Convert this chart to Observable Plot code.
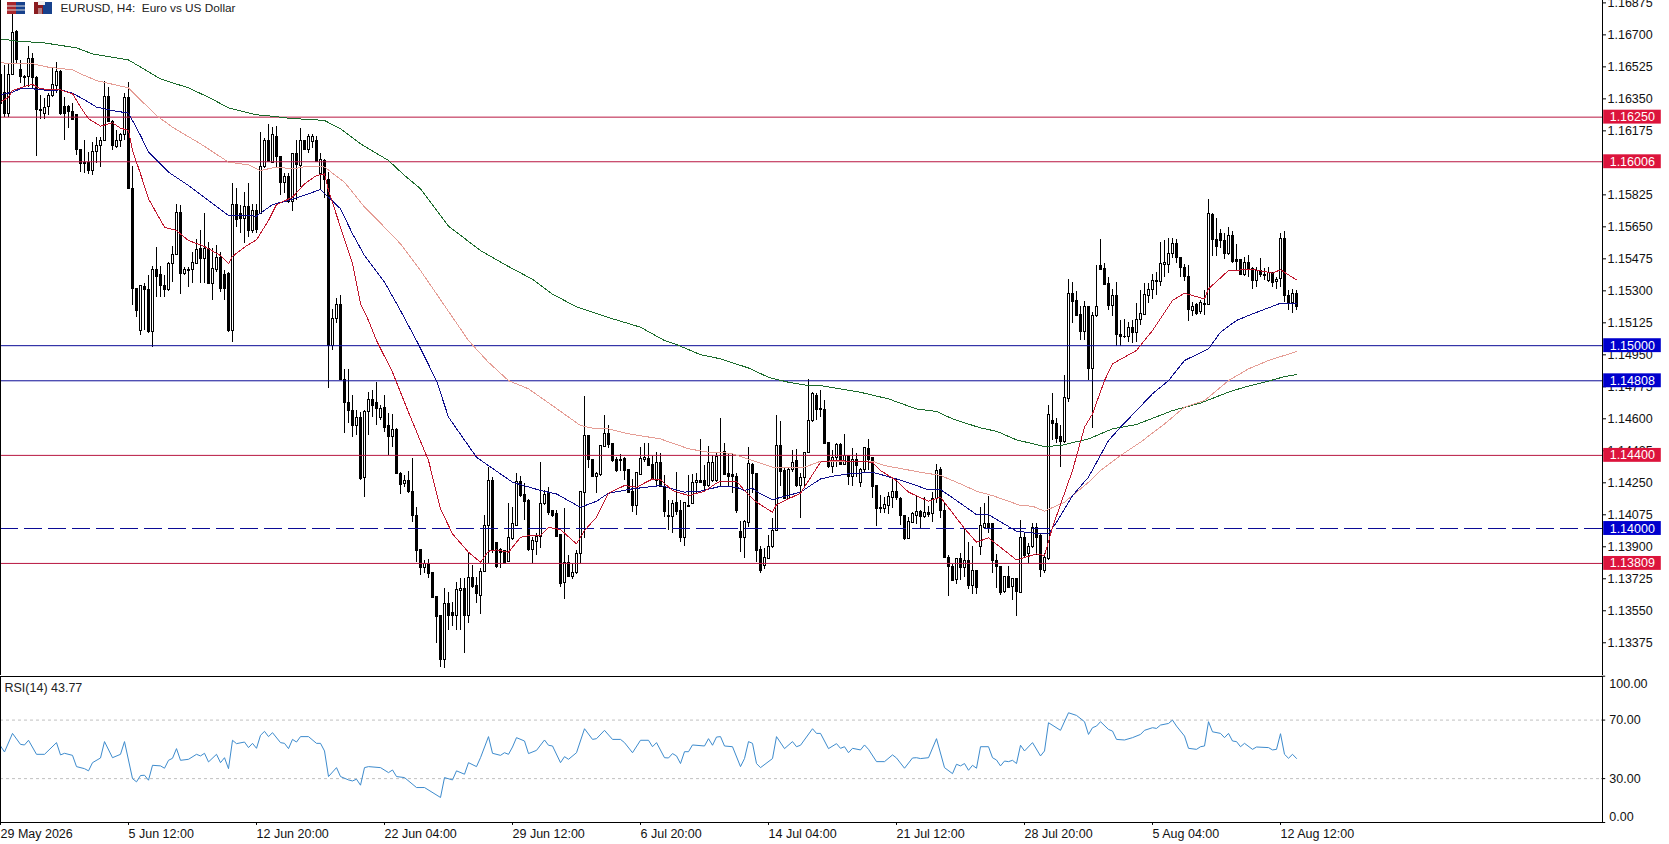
<!DOCTYPE html>
<html><head><meta charset="utf-8">
<script src="https://cdn.jsdelivr.net/npm/d3@7"></script>
<script src="https://cdn.jsdelivr.net/npm/@observablehq/plot@0.6"></script>
<style>
html,body{margin:0;padding:0;background:#fff;overflow:hidden}
#chart{position:relative;width:1669px;height:844px}
#chart>svg{position:absolute;left:0;display:block}
</style></head><body><div id="chart"></div>
<script>
// Prices are held as points (0.00001) above this base.
const base = 1.13;
const opens = [
3478,3381,3268,3483,3715,3509,3465,3469,3569,3465,
3290,3268,3305,3363,3423,3496,3308,3308,3277,3259,
3071,2998,2998,2958,3059,3090,3119,3359,3223,3086,
3119,3153,3354,2858,2311,2083,2320,2307,2074,2415,
2384,2329,2302,2448,2497,2727,2393,2415,2415,2448,
2530,2475,2530,2338,2415,2479,2389,2393,2080,2772,
2721,2694,2761,2626,2736,2721,2977,3119,3000,3144,
3031,2889,2925,2785,3046,2982,3122,3068,3113,3117,
2940,3009,2904,1999,2147,2225,1813,1685,1645,1563,
1605,1277,1636,1703,1685,1605,1660,1558,1499,1539,
1299,1244,1262,1199,1071,880,785,807,756,624,
519,282,588,537,524,657,670,524,730,688,
633,761,1016,1262,920,880,876,816,943,1016,
1253,1186,1153,880,925,952,1135,1193,1095,1080,
962,701,810,734,756,858,1193,1508,1372,1281,
1293,1448,1518,1463,1372,1375,1381,1321,1199,1122,
1295,1375,1381,1350,1262,1361,1226,1071,1065,1138,
1095,949,1120,1135,1248,1262,1259,1235,1259,1259,
1394,1417,1299,1290,1284,980,949,1029,1350,1299,
880,797,834,898,989,1454,1313,1162,1321,1368,
1235,1277,1412,1587,1727,1654,1649,1467,1339,1386,
1459,1350,1394,1284,1375,1248,1321,1435,1386,1230,
1111,1107,1122,1168,1202,1162,1071,940,1029,1071,
1089,1062,1084,1080,1162,1321,1098,839,792,721,
834,783,825,684,766,898,1003,1025,1022,825,
792,652,734,679,723,648,949,858,898,1003,
958,770,834,1590,1572,1503,1472,1709,2280,2242,
2170,2074,2211,1870,2160,2438,2417,2335,2216,2274,
2061,2046,2046,2096,2068,2138,2170,2274,2302,2347,
2347,2444,2444,2502,2557,2480,2424,2378,2192,2220,
2183,2223,2225,2717,2579,2612,2575,2499,2602,2466,
2466,2389,2453,2420,2353,2407,2389,2356,2396,2349,
2365,2584,2274,2232,2280];
const highs = [
3542,3533,3542,3815,3724,3560,3478,3638,3596,3472,
3368,3350,3378,3514,3547,3505,3359,3314,3323,3259,
3071,3122,3059,3113,3141,3141,3445,3414,3232,3177,
3159,3378,3438,2982,2311,2329,2338,2384,2433,2539,
2435,2384,2457,2543,2772,2767,2428,2430,2512,2579,
2630,2721,2566,2530,2548,2512,2411,2402,2885,2858,
2767,2840,2885,2772,2772,3168,3131,3208,3195,3199,
3031,2940,2940,3053,3122,3186,3122,3153,3153,3144,
3049,3017,2949,2196,2256,2275,1868,1868,1727,1645,
1636,1645,1745,1755,1800,1672,1727,1627,1623,1545,
1308,1290,1313,1381,1116,880,825,828,756,628,
524,670,652,597,706,725,725,870,797,734,
779,1071,1335,1281,925,889,876,1138,1116,1299,
1284,1244,1157,952,974,1363,1208,1226,1098,1098,
962,1107,852,807,880,1199,1722,1508,1372,1308,
1454,1618,1563,1463,1390,1404,1386,1321,1266,1302,
1441,1466,1463,1394,1417,1412,1290,1153,1153,1308,
1153,1138,1290,1295,1299,1485,1344,1448,1399,1417,
1600,1466,1412,1408,1302,1040,1044,1445,1357,1302,
901,889,962,1053,1618,1585,1326,1326,1426,1430,
1299,1417,1813,1745,1736,1755,1700,1467,1426,1463,
1467,1512,1399,1435,1408,1326,1445,1485,1390,1230,
1180,1171,1199,1271,1271,1171,1071,1062,1089,1180,
1098,1171,1120,1199,1350,1335,1144,852,803,834,
861,998,925,901,770,1116,1135,1175,1022,858,
792,737,792,725,725,1044,980,916,1029,1025,
971,861,1672,1740,1600,1563,1837,2360,2347,2298,
2214,2243,2214,2183,2438,2581,2448,2375,2305,2347,
2138,2141,2129,2138,2229,2302,2338,2338,2389,2398,
2566,2575,2584,2584,2579,2480,2444,2438,2238,2229,
2247,2302,2798,2721,2694,2634,2612,2648,2626,2553,
2469,2480,2493,2426,2426,2475,2420,2429,2402,2375,
2615,2624,2302,2305,2302];
const lows = [
3250,3250,3250,3483,3542,3432,3410,3414,3405,3037,
3237,3237,3259,3359,3378,3259,3122,3186,3235,3040,
2949,2940,2936,2931,2995,2977,3119,3223,3068,3077,
3086,3122,2854,2220,2156,2056,2083,2069,1988,2262,
2266,2262,2298,2348,2493,2278,2384,2320,2338,2444,
2338,2338,2335,2247,2402,2293,2247,2074,2019,2648,
2612,2557,2594,2612,2612,2721,2967,3004,2995,2977,
2822,2831,2776,2736,2794,2867,3068,3049,3077,3004,
2849,2803,1768,1974,2120,1815,1521,1572,1499,1508,
1262,1168,1508,1605,1563,1590,1527,1399,1445,1295,
1186,1226,1189,1034,816,743,752,725,615,369,
241,236,442,464,442,442,318,482,670,588,
529,757,807,861,779,779,803,812,934,1011,
1171,1044,876,810,852,889,1126,1071,1062,949,
679,610,730,719,748,807,943,1326,1277,1193,
1284,1445,1436,1363,1308,1313,1262,1189,1085,1071,
1290,1363,1339,1262,1226,1222,1062,989,974,1071,
925,903,1116,1131,1186,1244,1208,1226,1253,1253,
1226,1290,1226,1189,1080,870,834,1007,1193,816,
756,774,830,889,985,1230,1157,1157,1308,1226,
1053,1217,1408,1581,1590,1605,1459,1326,1302,1335,
1344,1344,1235,1230,1281,1226,1302,1317,1162,1011,
1084,1080,1076,1107,1153,1016,934,938,1025,1022,
998,1053,1062,1034,1138,1056,834,628,712,692,
715,734,664,639,639,852,998,971,756,670,
633,643,670,606,519,646,834,810,889,852,
734,756,825,1481,1463,1332,1467,1687,2123,2165,
2028,2028,1810,1545,2156,2411,2329,2192,2161,1995,
1997,2037,2019,2014,2019,2110,2169,2229,2251,2274,
2324,2375,2393,2475,2448,2375,2353,2134,2161,2165,
2170,2165,2220,2488,2488,2530,2469,2493,2451,2411,
2384,2378,2375,2305,2320,2375,2356,2347,2320,2305,
2316,2238,2192,2178,2192];
const closes = [
3323,3268,3483,3711,3560,3469,3472,3569,3465,3290,
3283,3301,3363,3427,3496,3268,3268,3277,3235,3068,
2995,2991,2958,3059,3090,3122,3359,3223,3090,3119,
3153,3354,2858,2311,2189,2324,2302,2074,2415,2375,
2329,2302,2448,2497,2727,2393,2415,2408,2453,2524,
2475,2530,2338,2420,2479,2311,2311,2080,2772,2685,
2694,2758,2626,2736,2630,2977,3119,3004,3150,3031,
2889,2925,2785,3049,2986,3119,3068,3141,3141,3004,
3013,2904,1999,2147,2225,1815,1685,1642,1563,1605,
1271,1636,1703,1672,1654,1654,1550,1499,1539,1299,
1240,1262,1199,1071,876,785,807,752,621,515,
282,588,519,524,664,670,524,730,679,643,
761,1016,1262,883,792,865,807,949,1022,1253,
1180,1144,880,931,952,1135,1186,1084,1071,952,
697,810,734,756,858,1199,1508,1372,1281,1299,
1454,1518,1459,1368,1313,1368,1313,1193,1122,1302,
1381,1384,1344,1266,1357,1226,1089,1065,1135,1089,
949,1138,1124,1248,1262,1248,1235,1357,1361,1390,
1399,1295,1281,1281,1098,949,1034,1353,1299,876,
770,839,901,989,1454,1308,1162,1321,1357,1230,
1277,1412,1590,1733,1649,1649,1463,1335,1386,1459,
1350,1399,1281,1375,1344,1321,1441,1375,1226,1107,
1105,1126,1171,1202,1168,1071,943,1034,1080,1089,
1062,1084,1076,1162,1317,1098,839,788,715,834,
783,825,688,770,675,1011,1025,1003,821,788,
646,734,675,723,652,949,852,901,1003,949,
774,839,1623,1572,1490,1472,1714,2280,2238,2165,
2074,2214,1870,2165,2211,2415,2333,2216,2274,2059,
2046,2050,2098,2068,2143,2174,2278,2305,2356,2356,
2448,2451,2499,2557,2480,2424,2375,2196,2214,2174,
2232,2229,2721,2579,2539,2575,2499,2602,2457,2457,
2389,2451,2415,2356,2407,2384,2382,2396,2342,2360,
2584,2274,2232,2280,2214];

// Moving averages, read as [bar, points] at the turning places of each line.
const redMA = [[0,3332],[2,3359],[3,3396],[6,3418],[8,3429],[10,3405],[15,3399],[18,3378],[20,3305],[22,3241],[25,3201],[28,3219],[30,3190],[32,3177],[33,3068],[35,2940],[37,2803],[41,2648],[44,2630],[47,2575],[51,2543],[55,2493],[57,2448],[58,2488],[61,2539],[64,2579],[67,2685],[69,2772],[73,2812],[76,2885],[79,2931],[81,2940],[82,2849],[85,2648],[88,2448],[90,2229],[92,2138],[94,2028],[98,1855],[102,1636],[107,1372],[110,1107],[113,971],[117,870],[120,816],[122,876],[124,883],[127,870],[130,952],[132,961],[135,961],[137,1007],[140,994],[144,916],[146,989],[149,1062],[152,1193],[156,1235],[159,1226],[163,1271],[165,1266],[168,1208],[172,1180],[176,1204],[179,1248],[180,1259],[184,1259],[186,1208],[189,1144],[193,1089],[194,1131],[200,1193],[205,1363],[208,1372],[218,1363],[220,1317],[224,1262],[227,1199],[232,1149],[235,1171],[241,1000],[244,925],[247,949],[254,828],[259,861],[261,852],[263,1007],[268,1317],[271,1554],[273,1627],[276,1809],[278,1901],[284,1974],[288,2083],[293,2247],[296,2287],[301,2256],[302,2311],[307,2411],[313,2417],[318,2397],[320,2415],[324,2360]];
const blueMA = [[0,3372],[3,3387],[5,3405],[8,3405],[12,3396],[15,3399],[18,3381],[21,3345],[24,3305],[28,3286],[32,3272],[35,3150],[37,3059],[42,2949],[47,2876],[52,2794],[57,2712],[64,2709],[68,2772],[72,2794],[77,2831],[80,2854],[82,2812],[85,2749],[88,2612],[91,2493],[96,2348],[100,2192],[104,2028],[109,1809],[112,1609],[119,1390],[122,1344],[128,1253],[135,1208],[139,1189],[145,1116],[149,1149],[152,1193],[158,1217],[165,1235],[171,1199],[175,1204],[180,1231],[184,1226],[186,1208],[188,1220],[190,1189],[193,1158],[200,1199],[205,1271],[208,1286],[212,1299],[218,1308],[224,1271],[229,1235],[232,1211],[235,1213],[239,1153],[244,1076],[247,1076],[254,985],[260,971],[262,971],[264,1034],[268,1180],[272,1281],[277,1481],[280,1554],[284,1645],[288,1737],[292,1809],[296,1919],[302,1983],[305,2074],[309,2138],[313,2174],[320,2232],[324,2232]];
const pinkMA = [[0,3547],[5,3542],[8,3542],[12,3523],[18,3509],[20,3487],[24,3450],[32,3410],[36,3323],[39,3259],[43,3195],[50,3104],[57,3004],[62,2989],[65,2958],[69,2977],[73,2967],[77,2982],[81,2977],[86,2894],[91,2758],[96,2648],[100,2557],[105,2411],[117,2028],[122,1909],[127,1809],[132,1764],[138,1672],[145,1563],[149,1545],[152,1545],[157,1518],[165,1490],[172,1436],[177,1417],[180,1417],[183,1408],[188,1372],[193,1335],[201,1335],[205,1368],[218,1368],[221,1344],[230,1308],[235,1290],[240,1244],[244,1204],[248,1180],[255,1126],[258,1122],[261,1095],[266,1144],[272,1253],[275,1317],[280,1399],[285,1472],[291,1572],[296,1664],[301,1700],[307,1809],[312,1873],[317,1919],[324,1968]];
const greenMA = [[0,3678],[4,3666],[11,3656],[19,3629],[23,3596],[32,3563],[40,3459],[47,3410],[52,3359],[57,3301],[64,3263],[68,3255],[72,3244],[81,3232],[85,3186],[90,3104],[97,3013],[101,2931],[105,2858],[112,2654],[120,2520],[127,2433],[133,2363],[138,2282],[144,2212],[152,2154],[160,2101],[166,2028],[169,2006],[175,1951],[180,1928],[187,1878],[192,1827],[197,1800],[202,1782],[205,1782],[215,1745],[222,1709],[229,1654],[234,1640],[238,1600],[245,1550],[249,1532],[254,1485],[261,1448],[265,1454],[272,1490],[278,1545],[284,1569],[293,1645],[300,1686],[307,1746],[311,1773],[317,1806],[321,1831],[324,1842]];

// RSI(14) as [bar, value]
const rsi = [[0,52.3],[1,48.2],[3,60.9],[5,53.4],[6,53],[7,56.2],[9,46.6],[11,46.6],[14,54.6],[15,46.2],[16,47.3],[18,45.9],[19,38.2],[21,36.8],[22,35.3],[23,40.9],[25,44.1],[26,55.3],[28,44.3],[30,46.6],[31,55.3],[33,30],[34,27.8],[35,32.1],[36,32.3],[37,28.9],[38,39.1],[40,38.7],[41,37.1],[42,42.5],[43,43.9],[44,50.5],[45,42.5],[47,43.2],[49,46.6],[50,45.5],[51,47.3],[52,41.4],[54,46.6],[55,40.9],[56,44.3],[57,36.8],[58,56.2],[59,53.9],[61,55],[62,51.2],[63,54.1],[64,50.7],[65,59.6],[66,62.3],[67,58.7],[68,61.4],[70,54.6],[71,54.1],[72,50.5],[73,56.8],[74,55],[75,58.7],[77,58.7],[79,54.1],[80,54.1],[81,48.9],[82,31.4],[84,37.5],[85,31.4],[87,29.1],[88,28.4],[89,29.6],[90,25.5],[91,37.5],[92,38.2],[95,37.5],[97,34.1],[98,35.9],[99,31.4],[101,30.7],[104,23.9],[106,23.9],[110,17.1],[111,30.7],[113,29.1],[114,35.3],[116,33],[117,40.9],[119,38.2],[120,44.3],[122,58.7],[123,47.3],[125,45.9],[126,47.7],[127,46.6],[128,51.6],[129,58],[131,55.7],[132,47.1],[134,49.3],[136,56.4],[137,52.8],[138,52.3],[140,40.9],[141,45],[142,43.2],[144,47.7],[146,64.1],[148,56.8],[149,57.3],[151,63],[153,56.8],[155,56.8],[156,54.6],[158,47.7],[160,56.2],[162,56.2],[163,51.8],[164,54.6],[166,44.3],[167,44.1],[168,47.1],[169,45.5],[170,40.3],[171,48.4],[172,48.4],[173,53],[176,52.3],[177,57.3],[178,52.8],[179,58.4],[180,58.7],[181,52.3],[183,51.8],[185,38.2],[186,43.7],[187,55.3],[188,54.1],[189,40.3],[190,37.5],[193,43.7],[194,58.7],[196,50.5],[198,55.3],[199,51.8],[200,52.8],[203,64.1],[204,60.9],[205,60.9],[207,50.5],[209,53.9],[210,50.7],[211,51.8],[212,47.7],[213,50.7],[215,49.6],[216,53],[217,50],[219,41.6],[221,41.6],[223,46.2],[224,44.1],[226,37.1],[228,44.1],[229,44.3],[230,43.7],[232,44.3],[234,57.3],[236,37.5],[238,33.4],[239,39.8],[240,38.7],[241,40.3],[242,35.7],[243,39.1],[244,37.1],[245,51.8],[247,51.8],[248,44.3],[249,42.7],[250,38.7],[251,42],[252,41.6],[253,42.5],[254,40.3],[255,52.8],[256,48.9],[258,54.6],[260,45.5],[261,48.9],[262,68.2],[265,63],[267,75],[269,73.2],[271,68.9],[272,60.2],[273,64.8],[274,65.9],[275,68.9],[277,63.6],[278,62.5],[279,56.8],[281,56.4],[283,58],[285,60.2],[286,63],[288,64.8],[289,64.3],[290,66.6],[292,67.7],[293,70],[294,65.9],[296,59.1],[297,50.7],[299,50],[300,51.8],[301,52.3],[302,68.9],[303,62],[305,60.9],[306,58],[307,60.9],[308,55.7],[309,55.3],[310,51.8],[311,54.1],[313,50],[314,51.6],[317,51.2],[318,49.6],[319,50],[320,60.7],[321,46.6],[322,43.9],[323,46.6],[324,43.77]];

const priceTicks = [1.16875,1.167,1.16525,1.1635,1.16175,1.15825,1.1565,1.15475,1.153,1.15125,1.1495,1.14775,1.146,1.14425,1.1425,1.14075,1.139,1.13725,1.1355,1.13375];
const redLevels = [1.1625,1.16006,1.144,1.13809];
const blueLevels = [1.15,1.14808];
const dashedLevels = [1.14];
const tagHalf = 0.00038;
const timeBars = [0,32,64,96,128,160,192,224,256,288,320];
const timeLabels = ["29 May 2026","5 Jun 12:00","12 Jun 20:00","22 Jun 04:00","29 Jun 12:00","6 Jul 20:00","14 Jul 04:00","21 Jul 12:00","28 Jul 20:00","5 Aug 04:00","12 Aug 12:00"];
const rsiTicks = [100,70,30,0];
const rsiGuides = [70,30];

const candles = opens.map((o,i)=>({i,o:base+o/1e5,h:base+highs[i]/1e5,l:base+lows[i]/1e5,c:base+closes[i]/1e5}));
const up = candles.filter(d=>d.c>=d.o), down = candles.filter(d=>d.c<d.o);
const toLine = a => a.map(([i,p])=>({i,p:base+p/1e5}));
const font = '"Liberation Sans",Arial,sans-serif', fs = 12.5;
const xScale = {domain:[0,400],range:[0,1600]};
const ink = "#111";
const tagMarks = (levels,fill) => [
  Plot.rect(levels,{x1:400.8,x2:415.2,y1:d=>d-tagHalf,y2:d=>d+tagHalf,fill}),
  Plot.text(levels,{x:402.3,y:d=>d,text:d=>d.toFixed(5),fill:"white",textAnchor:"start",fontSize:fs})
];
const lineOf = (a,stroke) => Plot.line(toLine(a),{x:"i",y:"p",stroke,strokeWidth:1,shapeRendering:"crispEdges"});

const main = Plot.plot({
  width:1669,height:675,marginTop:0,marginBottom:0,marginLeft:0,marginRight:67,
  style:{fontFamily:font,fontSize:fs+"px",background:"#fff",color:ink},
  x:{...xScale,axis:null},
  y:{domain:[1.13196,1.16888],range:[675,0],axis:null},
  marks:[
    Plot.ruleX(candles,{x:"i",y1:"l",y2:"h",stroke:"#000",strokeWidth:1,shapeRendering:"crispEdges"}),
    Plot.rect(up,{x1:d=>d.i-0.25,x2:d=>d.i+0.25,y1:"o",y2:"c",fill:"#fff",stroke:"#000",strokeWidth:1,shapeRendering:"crispEdges"}),
    Plot.rect(down,{x1:d=>d.i-0.25,x2:d=>d.i+0.25,y1:"o",y2:"c",fill:"#000",stroke:"#000",strokeWidth:1,shapeRendering:"crispEdges"}),
    Plot.ruleY(redLevels,{stroke:"#b81640",strokeWidth:1}),
    Plot.ruleY(blueLevels,{stroke:"#0b0b96",strokeWidth:1}),
    Plot.ruleY(dashedLevels,{stroke:"#0b0b96",strokeWidth:1,strokeDasharray:"18,6"}),
    lineOf(greenMA,"#1c6b2c"),
    lineOf(pinkMA,"#e59d95"),
    lineOf(blueMA,"#10108c"),
    lineOf(redMA,"#c0182f"),
    Plot.axisY(priceTicks,{anchor:"right",tickSize:3,tickPadding:2,tickFormat:d=>d.toFixed(5),textAnchor:"start",fontSize:fs,label:null,stroke:"#000",fill:ink}),
    ...tagMarks(redLevels,"#dc143c"),
    ...tagMarks(blueLevels,"#0000cd"),
    ...tagMarks(dashedLevels,"#0000cd"),
    Plot.frame({anchor:"left",stroke:"#000"}),
    Plot.frame({anchor:"right",stroke:"#000"}),
    Plot.frame({anchor:"bottom",stroke:"#000"}),
    Plot.text(["EURUSD, H4:\u00a0\u00a0Euro vs US Dollar"],{frameAnchor:"top-left",dx:60,dy:3,lineAnchor:"top",fontSize:11.8,fill:"#222",textAnchor:"start"})
  ]
});
main.style.top="0";
document.getElementById("chart").appendChild(main);

const sub = Plot.plot({
  width:1669,height:168,marginTop:1,marginBottom:21,marginLeft:0,marginRight:67,
  style:{fontFamily:font,fontSize:fs+"px",background:"#fff",color:ink},
  x:{...xScale,axis:null},
  y:{domain:[0,100],range:[147,0.7],axis:null},
  marks:[
    Plot.ruleY(rsiGuides,{stroke:"#c0c0c0",strokeWidth:1,strokeDasharray:"3,3"}),
    Plot.line(rsi.map(([i,v])=>({i,v})),{x:"i",y:"v",stroke:"#3d8bcd",strokeWidth:1}),
    Plot.ruleY(rsiTicks,{x1:400.4,x2:401.3,stroke:"#000"}),
    Plot.text([70,30],{x:402.2,y:d=>d,text:d=>d.toFixed(2),textAnchor:"start",fontSize:fs,fill:ink}),
    Plot.text([100],{x:402.2,y:d=>d,dy:8,text:d=>d.toFixed(2),textAnchor:"start",fontSize:fs,fill:ink}),
    Plot.text([0],{x:402.2,y:d=>d,dy:-6,text:d=>d.toFixed(2),textAnchor:"start",fontSize:fs,fill:ink}),
    Plot.ruleX(timeBars,{x:d=>d,y1:0,y2:-2,stroke:"#000"}),
    Plot.text(timeBars,{x:d=>d,y:0,dy:11,text:(d,i)=>timeLabels[i],textAnchor:"start",fontSize:fs,fill:ink}),
    Plot.frame({stroke:"#000"}),
    Plot.text(["RSI(14) 43.77"],{frameAnchor:"top-left",dx:4,dy:7,lineAnchor:"top",fontSize:fs,fill:"#222",textAnchor:"start"})
  ]
});
sub.style.top="675px";
document.getElementById("chart").appendChild(sub);

// Toolbar glyphs at the top-left of the pane
const ns="http://www.w3.org/2000/svg";
const icons=document.createElementNS(ns,"svg");
icons.setAttribute("width","60");icons.setAttribute("height","16");
icons.style.cssText="position:absolute;left:0;top:0";
icons.innerHTML=`<rect x="7" y="2" width="9" height="12" fill="#a8262c"/><rect x="16" y="2" width="9" height="12" fill="#17418c"/>
<path d="M7 6h18M7 10h18" stroke="#ddd" stroke-width="1"/>
<rect x="34" y="2" width="9" height="12" fill="#8a1c20"/><rect x="43" y="2" width="9" height="12" fill="#17418c"/>
<rect x="38" y="1" width="7" height="4" fill="#eee"/><rect x="38" y="8" width="4" height="6" fill="#ddd" opacity=".5"/>`;
document.getElementById("chart").appendChild(icons);
</script></body></html>
